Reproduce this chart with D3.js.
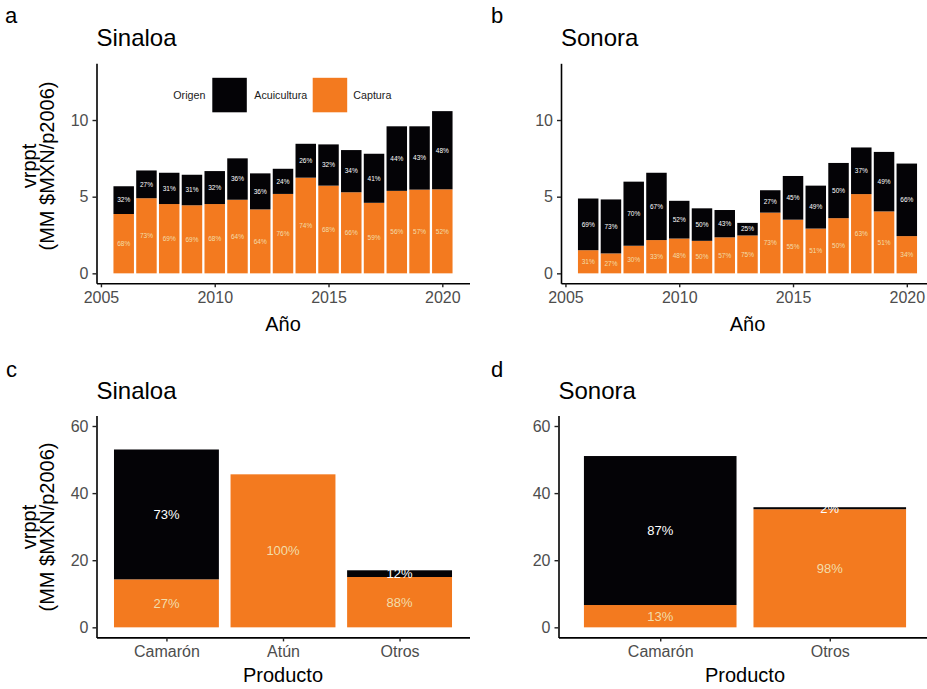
<!DOCTYPE html>
<html><head><meta charset="utf-8">
<script src="https://cdn.jsdelivr.net/npm/d3@7"></script>
<style>
body{margin:0;background:#fff;}
svg{display:block;font-family:"Liberation Sans",Arial,sans-serif;}
</style></head>
<body>
<svg id="chart" width="927" height="689"></svg>
<script>
// ---- data ----
const years = [2006,2007,2008,2009,2010,2011,2012,2013,2014,2015,2016,2017,2018,2019,2020];
const yearTicks = [2005,2010,2015,2020];
const sinaloaCaptura     = [3.87,4.90,4.52,4.44,4.52,4.80,4.17,5.18,6.24,5.72,5.29,4.60,5.38,5.46,5.48];
const sinaloaAcuicultura = [1.81,1.81,2.04,1.99,2.15,2.70,2.35,1.64,2.21,2.69,2.75,3.20,4.21,4.13,5.10];
const sonoraCaptura      = [1.51,1.30,1.80,2.17,2.27,2.12,2.35,2.47,3.96,3.50,2.92,3.60,5.17,4.04,2.43];
const sonoraAcuicultura  = [3.37,3.52,4.18,4.39,2.46,2.12,1.78,0.82,1.46,2.85,2.80,3.60,3.04,3.88,4.73];
const sinaloaProductos = ["Camarón","Atún","Otros"];
const sinaloaProdCaptura = [14.3,45.6,15.0];
const sinaloaProdAcuicultura = [38.7,0,2.0];
const sonoraProductos = ["Camarón","Otros"];
const sonoraProdCaptura = [6.65,35.2];
const sonoraProdAcuicultura = [44.4,0.6];
const yTicksTop = [0,5,10];
const yTicksBottom = [0,20,40,60];
const origenes = ["Acuicultura","Captura"];

// ---- styles ----
const COL = {Acuicultura:"#040306", Captura:"#F37A1F"};
const LABCOL = {Acuicultura:"#ffffff", Captura:"#F2DDAA"};
const svg = d3.select("#chart");

function axisStyle(g){
  g.selectAll(".domain").attr("stroke","#000").attr("stroke-width",1.6);
  g.selectAll(".tick line").attr("stroke","#222").attr("stroke-width",1.4);
  g.selectAll(".tick text").attr("fill","#4D4D4D").style("font-size","16px");
}

function yTitle(cx, cy){
  const t = svg.append("text").attr("transform",`translate(${cx},${cy}) rotate(-90)`)
    .attr("text-anchor","middle").style("font-size","20px").attr("fill","#000");
  t.append("tspan").attr("x",0).attr("y",-18).text("vrppt");
  t.append("tspan").attr("x",0).attr("y",0).text("(MM $MXN/p2006)");
}

function panelYear(opt){
  const x = d3.scaleLinear().domain([2004.805,2021.195]).range([opt.left,opt.left+373]);
  const y = d3.scaleLinear().domain([-0.65,13.7]).range([283.3,63.3]);
  const g = svg.append("g");
  const bw = x(2000.9)-x(2000);
  years.forEach((yr,i)=>{
    const c = opt.cap[i], a = opt.acu[i], tot = c+a;
    const segs = [{k:"Captura",y0:0,y1:c},{k:"Acuicultura",y0:c,y1:tot}];
    segs.forEach(s=>{
      g.append("rect").attr("x",x(yr)-bw/2).attr("width",bw)
        .attr("y",y(s.y1)).attr("height",y(s.y0)-y(s.y1)).attr("fill",COL[s.k]);
    });
    segs.forEach(s=>{
      const v = s.y1-s.y0;
      g.append("text").attr("x",x(yr)).attr("y",y((s.y0+s.y1)/2)).attr("dy","0.35em")
        .attr("text-anchor","middle").style("font-size","6.5px").attr("fill",LABCOL[s.k])
        .text(Math.round(v/tot*100)+"%");
    });
  });
  const gx = svg.append("g").attr("transform","translate(0,283.3)")
    .call(d3.axisBottom(x).tickValues(yearTicks).tickFormat(d3.format("d")).tickSize(4).tickSizeOuter(0).tickPadding(4));
  const gy = svg.append("g").attr("transform",`translate(${opt.left},0)`)
    .call(d3.axisLeft(y).tickValues(yTicksTop).tickSize(4).tickSizeOuter(0).tickPadding(4));
  axisStyle(gx); axisStyle(gy);
  gx.selectAll(".tick text").attr("dy","0.71em");
  svg.append("text").attr("x",(opt.left*2+373)/2).attr("y",331).attr("text-anchor","middle")
    .style("font-size","20px").text("Año");
  svg.append("text").attr("x",opt.left).attr("y",46).style("font-size","24px").text(opt.title);
  svg.append("text").attr("x",opt.tagx).attr("y",23).style("font-size","22px").text(opt.tag);
  if(opt.ytitle) yTitle(54, 166);
}

function panelProd(opt){
  const n = opt.cats.length;
  const x = d3.scaleLinear().domain([0.4,n+0.6]).range([opt.left,opt.left+373]);
  const y = d3.scaleLinear().domain([-3,63.1]).range([637.4,415.6]);
  const g = svg.append("g");
  const bw = x(1.9)-x(1);
  opt.cats.forEach((cat,i)=>{
    const c = opt.cap[i], a = opt.acu[i], tot = c+a;
    const segs = [{k:"Captura",y0:0,y1:c},{k:"Acuicultura",y0:c,y1:tot}].filter(s=>s.y1-s.y0>0);
    segs.forEach(s=>{
      g.append("rect").attr("x",x(i+1)-bw/2).attr("width",bw)
        .attr("y",y(s.y1)).attr("height",y(s.y0)-y(s.y1)).attr("fill",COL[s.k]);
    });
    segs.forEach(s=>{
      const v = s.y1-s.y0;
      g.append("text").attr("x",x(i+1)).attr("y",y((s.y0+s.y1)/2)).attr("dy","0.35em")
        .attr("text-anchor","middle").style("font-size","13px").attr("fill",LABCOL[s.k])
        .text(Math.round(v/tot*100)+"%");
    });
  });
  const gx = svg.append("g").attr("transform","translate(0,637.4)")
    .call(d3.axisBottom(x).tickValues(d3.range(1,n+1)).tickFormat(d=>opt.cats[d-1]).tickSize(4).tickSizeOuter(0).tickPadding(4));
  const gy = svg.append("g").attr("transform",`translate(${opt.left},0)`)
    .call(d3.axisLeft(y).tickValues(yTicksBottom).tickSize(4).tickSizeOuter(0).tickPadding(4));
  axisStyle(gx); axisStyle(gy);
  gx.selectAll(".tick text").attr("dy","0.71em");
  svg.append("text").attr("x",(opt.left*2+373)/2).attr("y",682).attr("text-anchor","middle")
    .style("font-size","20px").text("Producto");
  svg.append("text").attr("x",opt.left).attr("y",399.3).style("font-size","24px").text(opt.title);
  svg.append("text").attr("x",opt.tagx).attr("y",376.7).style("font-size","22px").text(opt.tag);
  if(opt.ytitle) yTitle(54, 527);
}

panelYear({left:96.5, cap:sinaloaCaptura, acu:sinaloaAcuicultura, title:"Sinaloa", tag:"a", tagx:5, ytitle:true});
panelYear({left:561, cap:sonoraCaptura, acu:sonoraAcuicultura, title:"Sonora", tag:"b", tagx:491, ytitle:false});
panelProd({left:96.5, cats:sinaloaProductos, cap:sinaloaProdCaptura, acu:sinaloaProdAcuicultura, title:"Sinaloa", tag:"c", tagx:6, ytitle:true});
panelProd({left:558.5, cats:sonoraProductos, cap:sonoraProdCaptura, acu:sonoraProdAcuicultura, title:"Sonora", tag:"d", tagx:491, ytitle:false});

// legend inside panel a
const lg = svg.append("g");
lg.append("text").attr("x",173.3).attr("y",95).attr("dy","0.35em").style("font-size","10.7px").attr("fill","#1a1a1a").text("Origen");
const keyX = {Acuicultura:212.3, Captura:312.7};
const txtX = {Acuicultura:254.3, Captura:353.3};
origenes.forEach(o=>{
  lg.append("rect").attr("x",keyX[o]).attr("y",77.8).attr("width",34.5).attr("height",34.5).attr("fill",COL[o]);
  lg.append("text").attr("x",txtX[o]).attr("y",95).attr("dy","0.35em").style("font-size","10.7px").attr("fill","#1a1a1a").text(o);
});
</script>
</body></html>
